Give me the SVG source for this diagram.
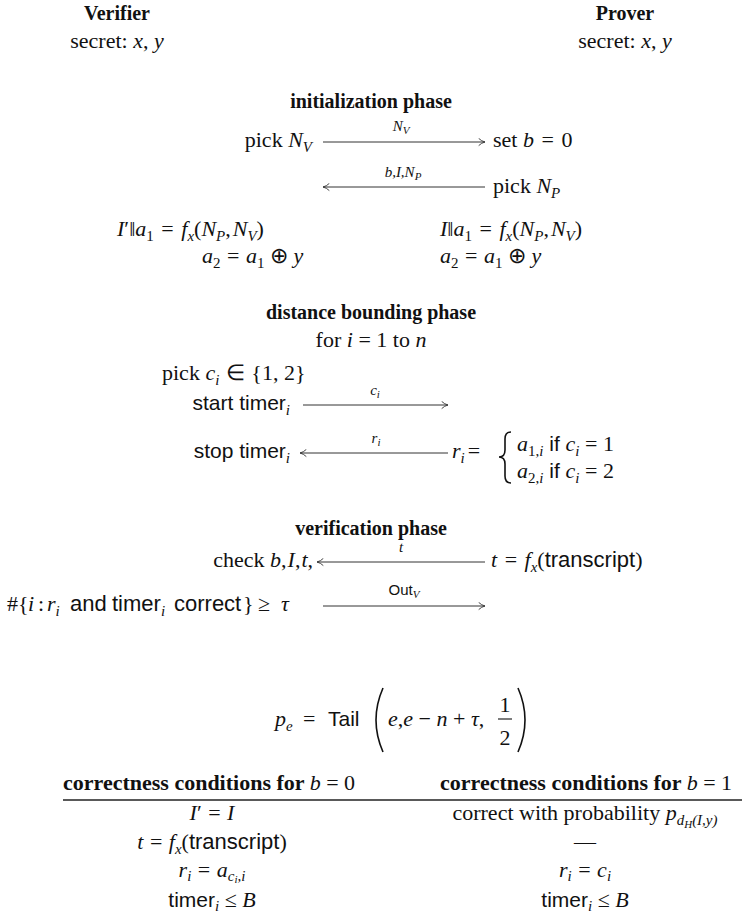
<svg xmlns="http://www.w3.org/2000/svg" width="742" height="921" viewBox="0 0 742 921">
<style>
.r{font-family:"Liberation Serif","Times New Roman",serif;font-size:22px;fill:#111}
.h{font-family:"Liberation Serif","Times New Roman",serif;font-size:20px;font-weight:bold;fill:#111}
.th{font-family:"Liberation Serif","Times New Roman",serif;font-size:22px;font-weight:bold;fill:#111}
.it{font-style:italic}
.nb{font-weight:normal}
.sf{font-family:"Liberation Sans",Arial,sans-serif;font-size:21px;font-style:normal}
.sf2{font-family:"Liberation Sans",Arial,sans-serif;font-size:22px;font-style:normal}
.sb{font-size:15px}
.lb{font-size:15px}
.lbs{font-size:11px}
.ar{stroke:#333;stroke-width:1;fill:none}
.pr{stroke:#111;stroke-width:1.6;fill:none}
</style>
<defs>
<marker id="ah" viewBox="0 0 10 10" refX="9" refY="5" markerWidth="9" markerHeight="9" orient="auto" markerUnits="userSpaceOnUse">
<path d="M2,1 Q5,4 9,5 Q5,6 2,9" fill="none" stroke="#333" stroke-width="1"/>
</marker>
</defs>

<g id="verifier">
<text class="h" x="117" y="20" text-anchor="middle">Verifier</text>
<text class="r" x="117" y="48" text-anchor="middle">secret: <tspan class="it">x</tspan>, <tspan class="it">y</tspan></text>
</g>
<g id="prover">
<text class="h" x="625" y="20" text-anchor="middle">Prover</text>
<text class="r" x="625" y="48" text-anchor="middle">secret: <tspan class="it">x</tspan>, <tspan class="it">y</tspan></text>
</g>

<g id="init-phase">
<text class="h" x="371" y="108" text-anchor="middle">initialization phase</text>
<text class="r" x="312" y="147" text-anchor="end">pick <tspan class="it">N</tspan><tspan class="it sb" dy="5">V</tspan></text>
<text class="r" x="493" y="147">set <tspan class="it">b</tspan><tspan dx="2"> = </tspan><tspan dx="2">0</tspan></text>
<text class="r" x="493" y="193">pick <tspan class="it">N</tspan><tspan class="it sb" dy="5">P</tspan></text>
<text class="r" x="117" y="236"><tspan class="it">I</tspan>′‖<tspan class="it">a</tspan><tspan class="sb" dy="5">1</tspan><tspan dy="-5" dx="2"> = </tspan><tspan class="it" dx="2">f</tspan><tspan class="it sb" dy="5">x</tspan><tspan dy="-5">(</tspan><tspan class="it">N</tspan><tspan class="it sb" dy="5">P</tspan><tspan dy="-5">,</tspan><tspan class="it" dx="2">N</tspan><tspan class="it sb" dy="5">V</tspan><tspan dy="-5">)</tspan></text>
<text class="r" x="440" y="236"><tspan class="it">I</tspan>‖<tspan class="it">a</tspan><tspan class="sb" dy="5">1</tspan><tspan dy="-5" dx="2"> = </tspan><tspan class="it" dx="2">f</tspan><tspan class="it sb" dy="5">x</tspan><tspan dy="-5">(</tspan><tspan class="it">N</tspan><tspan class="it sb" dy="5">P</tspan><tspan dy="-5">,</tspan><tspan class="it" dx="2">N</tspan><tspan class="it sb" dy="5">V</tspan><tspan dy="-5">)</tspan></text>
<text class="r" x="202" y="263"><tspan class="it">a</tspan><tspan class="sb" dy="5">2</tspan><tspan dy="-5" dx="1"> = </tspan><tspan class="it" dx="1">a</tspan><tspan class="sb" dy="5">1</tspan><tspan dy="-5"> ⊕ </tspan><tspan class="it">y</tspan></text>
<text class="r" x="440" y="263"><tspan class="it">a</tspan><tspan class="sb" dy="5">2</tspan><tspan dy="-5" dx="1"> = </tspan><tspan class="it" dx="1">a</tspan><tspan class="sb" dy="5">1</tspan><tspan dy="-5"> ⊕ </tspan><tspan class="it">y</tspan></text>
</g>

<g id="distance-phase">
<text class="h" x="371" y="319" text-anchor="middle">distance bounding phase</text>
<text class="r" x="371" y="347" text-anchor="middle">for <tspan class="it">i</tspan> = 1 to <tspan class="it">n</tspan></text>
<text class="r" x="162" y="380">pick <tspan class="it">c</tspan><tspan class="it sb" dy="5">i</tspan><tspan dy="-5" dx="1"> ∈ </tspan><tspan dx="1">{1, 2}</tspan></text>
<text class="r" x="290" y="410" text-anchor="end"><tspan class="sf" font-size="20">start timer</tspan><tspan class="it sb" dy="5">i</tspan></text>
<text class="r" x="290" y="458" text-anchor="end"><tspan class="sf" font-size="20">stop timer</tspan><tspan class="it sb" dy="5">i</tspan></text>
<text class="r" x="452" y="458"><tspan class="it">r</tspan><tspan class="it sb" dy="5">i</tspan><tspan dy="-5" dx="3">=</tspan></text>
<path class="pr" d="M511,432 Q505,432 505,439 L505,450 Q505,457 499,457 Q505,457 505,464 L505,476 Q505,483 511,483" stroke-width="1.5"/>
<text class="r" x="517" y="451"><tspan class="it">a</tspan><tspan class="sb" dy="5">1,<tspan class="it">i</tspan></tspan><tspan class="sf" font-size="20" dy="-5"> if </tspan><tspan class="it">c</tspan><tspan class="it sb" dy="5">i</tspan><tspan dy="-5"> = 1</tspan></text>
<text class="r" x="517" y="478"><tspan class="it">a</tspan><tspan class="sb" dy="5">2,<tspan class="it">i</tspan></tspan><tspan class="sf" font-size="20" dy="-5"> if </tspan><tspan class="it">c</tspan><tspan class="it sb" dy="5">i</tspan><tspan dy="-5"> = 2</tspan></text>
</g>

<g id="verification-phase">
<text class="h" x="371" y="535" text-anchor="middle">verification phase</text>
<text class="r" x="313" y="567" text-anchor="end">check <tspan class="it">b</tspan>,<tspan class="it" dx="1">I</tspan>,<tspan class="it" dx="1">t</tspan>,</text>
<text class="r" x="491" y="567"><tspan class="it">t</tspan><tspan dx="2"> = </tspan><tspan class="it" dx="2">f</tspan><tspan class="it sb" dy="5">x</tspan><tspan dy="-5">(</tspan><tspan class="sf2">transcript</tspan>)</text>
<text class="r" y="611"><tspan x="7">#{</tspan><tspan class="it" x="28">i</tspan><tspan x="38">:</tspan><tspan class="it" x="47">r</tspan><tspan class="it sb" dy="5">i</tspan><tspan class="sf2" x="70" dy="-5">and</tspan><tspan class="sf2" x="112">timer</tspan><tspan class="it sb" dy="5">i</tspan><tspan class="sf2" x="174" dy="-5">correct</tspan><tspan x="243">}</tspan><tspan x="258">≥</tspan><tspan class="it" x="281">τ</tspan></text>
</g>

<g id="connectors">
<line class="ar" x1="323" y1="142" x2="485" y2="142" marker-end="url(#ah)"/>
<text class="r it lb" x="401" y="131" text-anchor="middle">N<tspan class="lbs" dy="3">V</tspan></text>
<line class="ar" x1="485" y1="187" x2="323" y2="187" marker-end="url(#ah)"/>
<text class="r it lb" x="403" y="177" text-anchor="middle">b,I,N<tspan class="lbs" dy="3">P</tspan></text>
<line class="ar" x1="303" y1="405" x2="448" y2="405" marker-end="url(#ah)"/>
<text class="r it lb" x="375" y="395" text-anchor="middle">c<tspan class="lbs" dy="3">i</tspan></text>
<line class="ar" x1="448" y1="453" x2="300" y2="453" marker-end="url(#ah)"/>
<text class="r it lb" x="376" y="443" text-anchor="middle">r<tspan class="lbs" dy="3">i</tspan></text>
<line class="ar" x1="485" y1="562" x2="317" y2="562" marker-end="url(#ah)"/>
<text class="r it lb" x="401" y="552" text-anchor="middle">t</text>
<line class="ar" x1="323" y1="606" x2="485" y2="606" marker-end="url(#ah)"/>
<text class="r lb" x="404" y="595" text-anchor="middle"><tspan font-family="Liberation Sans, Arial, sans-serif">Out</tspan><tspan class="it lbs" dy="3">V</tspan></text>
</g>

<g id="formula">
<text class="r" x="275" y="726"><tspan class="it">p</tspan><tspan class="it sb" dy="5">e</tspan></text>
<text class="r" x="303" y="726">=</text>
<text class="sf" x="328" y="726" fill="#111">Tail</text>
<path class="pr" d="M383,688 Q369,720 383,752"/>
<text class="r" x="388" y="726"><tspan class="it">e</tspan>,<tspan class="it">e</tspan> − <tspan class="it">n</tspan> + <tspan class="it">τ</tspan>,</text>
<text class="r" x="505" y="712" text-anchor="middle">1</text>
<line x1="498" y1="719" x2="512" y2="719" stroke="#111" stroke-width="1.1"/>
<text class="r" x="505" y="745" text-anchor="middle">2</text>
<path class="pr" d="M518,688 Q532,720 518,752"/>
</g>

<g id="table">
<text class="th" x="63" y="790">correctness conditions for <tspan class="it nb">b</tspan><tspan class="nb"> = 0</tspan></text>
<text class="th" x="440" y="790">correctness conditions for <tspan class="it nb">b</tspan><tspan class="nb"> = 1</tspan></text>
<line x1="63" y1="800" x2="742" y2="800" stroke="#222" stroke-width="1.3"/>
<text class="r" x="212" y="820" text-anchor="middle"><tspan class="it">I</tspan>′<tspan dx="1"> = </tspan><tspan class="it" dx="1">I</tspan></text>
<text class="r" x="585" y="820" text-anchor="middle">correct with probability <tspan class="it">p</tspan><tspan class="it sb" dy="5">d<tspan class="lbs" dy="3">H</tspan><tspan dy="-3">(I,y)</tspan></tspan></text>
<text class="r" x="212" y="849" text-anchor="middle"><tspan class="it">t</tspan><tspan dx="1"> = </tspan><tspan class="it" dx="1">f</tspan><tspan class="it sb" dy="5">x</tspan><tspan dy="-5">(</tspan><tspan class="sf2">transcript</tspan>)</text>
<text class="r" x="585" y="849" text-anchor="middle">—</text>
<text class="r" x="212" y="877" text-anchor="middle"><tspan class="it">r</tspan><tspan class="it sb" dy="4">i</tspan><tspan dy="-4" dx="1"> = </tspan><tspan class="it" dx="1">a</tspan><tspan class="it sb" dy="4">c<tspan class="lbs" dy="2">i</tspan><tspan dy="-2">,i</tspan></tspan></text>
<text class="r" x="585" y="877" text-anchor="middle"><tspan class="it">r</tspan><tspan class="it sb" dy="4">i</tspan><tspan dy="-4" dx="1"> = </tspan><tspan class="it" dx="1">c</tspan><tspan class="it sb" dy="4">i</tspan></text>
<text class="r" x="212" y="907" text-anchor="middle"><tspan class="sf">timer</tspan><tspan class="it sb" dy="4">i</tspan><tspan dy="-4"> ≤ </tspan><tspan class="it">B</tspan></text>
<text class="r" x="585" y="907" text-anchor="middle"><tspan class="sf">timer</tspan><tspan class="it sb" dy="4">i</tspan><tspan dy="-4"> ≤ </tspan><tspan class="it">B</tspan></text>
</g>
</svg>
